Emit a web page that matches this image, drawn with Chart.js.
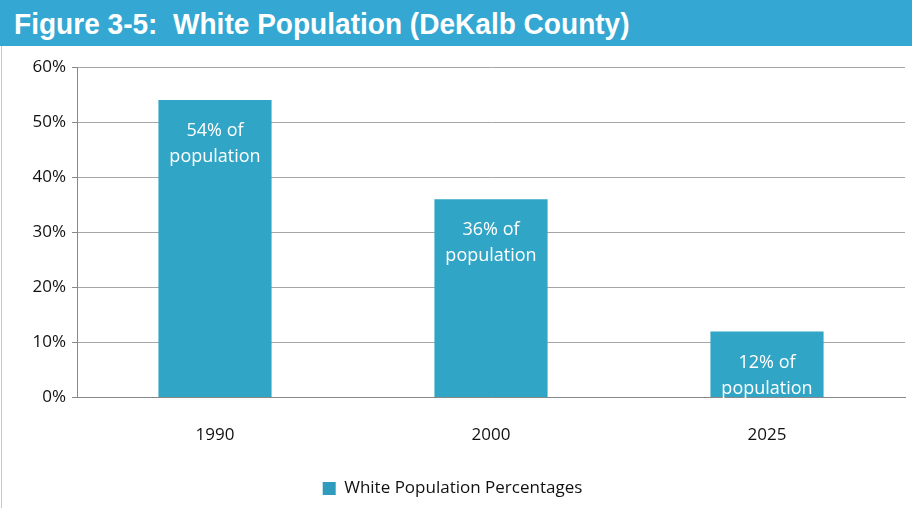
<!DOCTYPE html>
<html>
<head>
<meta charset="utf-8">
<script src="https://cdn.jsdelivr.net/npm/chart.js@4.4.1/dist/chart.umd.min.js"></script>
<style>
  html, body { margin: 0; padding: 0; background: #fff; }
  #wrap { position: relative; width: 912px; height: 508px; overflow: hidden; }
  #title {
    position: absolute; left: 0; top: 0; width: 912px; height: 46px;
    background: #34A8D2; color: #fff;
    font: bold 30px "Liberation Sans", Arial, sans-serif;
    line-height: 48px; white-space: nowrap;
  }
  #title span { display: inline-block; transform-origin: left center; transform: scaleX(0.935); padding-left: 15px; }
  #edge { position: absolute; left: 1px; top: 46px; width: 1px; height: 462px; background: #C8C8C8; }
  #chartBox { position: absolute; left: 0; top: 46px; width: 912px; height: 462px; }
</style>
</head>
<body>
<div id="wrap">
  <div id="title"><span>Figure 3-5:&nbsp; White Population (DeKalb County)</span></div>
  <div id="edge"></div>
  <div id="chartBox"><canvas id="chart"></canvas></div>
</div>
<script>
const years = ['1990', '2000', '2025'];
const whitePct = [54, 36, 12];
const barLabels = [['54% of', 'population'], ['36% of', 'population'], ['12% of', 'population']];
const yTicks = [0, 10, 20, 30, 40, 50, 60];

const font = '"Open Sans", "Liberation Sans", sans-serif';

function barFill(context) {
  const chart = context.chart;
  const el = context.element;
  if (!chart.chartArea || !el || el.x === undefined) return '#31A5C6';
  const half = (el.width || 113) / 2;
  const g = chart.ctx.createLinearGradient(el.x - half, 0, el.x + half, 0);
  g.addColorStop(0, '#2A8CAA');
  g.addColorStop(0.07, '#33A6C7');
  g.addColorStop(0.5, '#36ABCC');
  g.addColorStop(0.93, '#33A6C7');
  g.addColorStop(1, '#2A8CAA');
  return g;
}

// text inside the top of each bar
const insideLabels = {
  id: 'insideLabels',
  afterDatasetsDraw(chart) {
    const ctx = chart.ctx;
    const meta = chart.getDatasetMeta(0);
    ctx.save();
    ctx.fillStyle = '#ffffff';
    ctx.font = '18px ' + font;
    ctx.textAlign = 'center';
    ctx.textBaseline = 'middle';
    meta.data.forEach((bar, i) => {
      barLabels[i].forEach((line, j) => {
        ctx.fillText(line, bar.x, bar.y + 31 + j * 26);
      });
    });
    ctx.restore();
  }
};

const ctx = document.getElementById('chart').getContext('2d');
new Chart(ctx, {
  type: 'bar',
  data: {
    labels: years,
    datasets: [{
      label: 'White Population Percentages',
      data: whitePct,
      backgroundColor: barFill,
      borderWidth: 0,
      barPercentage: 0.41,
      categoryPercentage: 1
    }]
  },
  options: {
    responsive: true,
    maintainAspectRatio: false,
    animation: false,
    layout: { padding: { left: 0, right: 7, top: 21, bottom: 1 } },
    plugins: {
      tooltip: { enabled: false },
      legend: {
        position: 'bottom',
        labels: {
          color: '#111',
          font: { family: font, size: 17 },
          boxWidth: 13,
          boxHeight: 13,
          padding: 8,
          generateLabels(chart) {
            return [{
              text: 'White Population Percentages',
              fillStyle: '#2F9CBE',
              strokeStyle: '#2A8CAA',
              lineWidth: 0,
              fontColor: '#111',
              datasetIndex: 0
            }];
          }
        }
      }
    },
    scales: {
      x: {
        grid: { display: false, drawTicks: false },
        border: { color: '#888', width: 1 },
        ticks: { color: '#111', font: { family: font, size: 17 }, padding: 27 }
      },
      y: {
        min: 0,
        max: 60,
        afterBuildTicks(scale) { scale.ticks = yTicks.map(v => ({ value: v })); },
        afterFit(scale) { scale.width = 77; },
        grid: { color: '#A6A6A6', tickLength: 5, tickColor: '#888' },
        border: { color: '#888', width: 1 },
        ticks: {
          color: '#111',
          font: { family: font, size: 17 },
          padding: 6,
          callback: v => v + '%'
        }
      }
    }
  },
  plugins: [insideLabels]
});
</script>
</body>
</html>
